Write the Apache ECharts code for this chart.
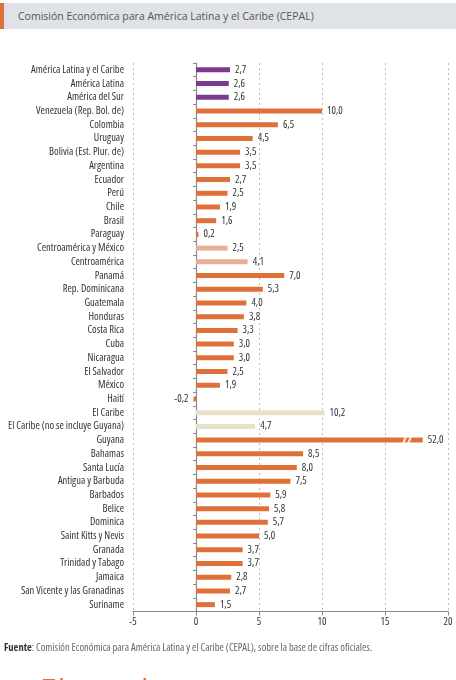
<!DOCTYPE html>
<html>
<head>
<meta charset="utf-8">
<script src="https://cdn.jsdelivr.net/npm/echarts@6/dist/echarts.min.js"></script>
<style>
    html, body { margin: 0; padding: 0; background: #fff; }
    #wrap { position: relative; width: 456px; height: 680px; overflow: hidden; }
    #head { position: absolute; left: 0; top: 3px; width: 456px; height: 26px; background: #dfe2e8; border-left: 4px solid #e0703a; box-sizing: border-box; }
    #head span { position: absolute; left: 14px; top: 6px; font-family: 'Open Sans', sans-serif; font-size: 10.5px; color: #555; }
    #main { position: absolute; left: 0; top: 0; width: 456px; height: 680px; }
    #src { position: absolute; left: 4px; top: 640px; font-family: 'Open Sans', sans-serif; font-stretch: condensed; font-size: 10.5px; color: #666; }
    #src b { color: #333; }
    #next { position: absolute; left: 40px; top: 674px; line-height: 30px; font-family: 'Open Sans', sans-serif; font-size: 30px; color: #e0703a; white-space: nowrap; letter-spacing: 1px; }
</style>
</head>
<body>
<div id="wrap">
    <div id="main"></div>
    <div id="head"><span>Comisión Económica para América Latina y el Caribe (CEPAL)</span></div>
    <div id="src"><b>Fuente</b>: Comisión Económica para América Latina y el Caribe (CEPAL), sobre la base de cifras oficiales.</div>
    <div id="next">El empleo mantuvo su recuperación</div>
</div>
<script>
var categories = ['América Latina y el Caribe', 'América Latina', 'América del Sur',
    'Venezuela (Rep. Bol. de)', 'Colombia', 'Uruguay', 'Bolivia (Est. Plur. de)', 'Argentina',
    'Ecuador', 'Perú', 'Chile', 'Brasil', 'Paraguay',
    'Centroamérica y México', 'Centroamérica', 'Panamá', 'Rep. Dominicana', 'Guatemala',
    'Honduras', 'Costa Rica', 'Cuba', 'Nicaragua', 'El Salvador', 'México', 'Haití',
    'El Caribe', 'El Caribe (no se incluye Guyana)', 'Guyana', 'Bahamas', 'Santa Lucía',
    'Antigua y Barbuda', 'Barbados', 'Belice', 'Dominica', 'Saint Kitts y Nevis', 'Granada',
    'Trinidad y Tabago', 'Jamaica', 'San Vicente y las Granadinas', 'Suriname'];
var values = [2.7, 2.6, 2.6,
    10.0, 6.5, 4.5, 3.5, 3.5,
    2.7, 2.5, 1.9, 1.6, 0.2,
    2.5, 4.1, 7.0, 5.3, 4.0,
    3.8, 3.3, 3.0, 3.0, 2.5, 1.9, -0.2,
    10.2, 4.7, 52.0, 8.5, 8.0,
    7.5, 5.9, 5.8, 5.7, 5.0, 3.7,
    3.7, 2.8, 2.7, 1.5];
var regionTotals = ['América Latina y el Caribe', 'América Latina', 'América del Sur'];
var centralTotals = ['Centroamérica y México', 'Centroamérica'];
var caribbeanTotals = ['El Caribe', 'El Caribe (no se incluye Guyana)'];
var xTicks = [-5, 0, 5, 10, 15, 20];

// no narrow font installed, so ask for the condensed width of Open Sans
var font = "'Open Sans', sans-serif";
var stretch = 'condensed';
var clipAt = 18; // bars past the axis get cut with a break mark

function barColor(name) {
    if (regionTotals.indexOf(name) >= 0) return '#7e3a8c';
    if (centralTotals.indexOf(name) >= 0) return '#e8ae97';
    if (caribbeanTotals.indexOf(name) >= 0) return '#e4e0c9';
    return '#e0703a';
}

var barData = values.map(function(v, i) {
    return {
        value: Math.min(v, clipAt),
        real: v,
        itemStyle: { color: barColor(categories[i]) },
        label: { position: v < 0 ? 'left' : 'right' }
    };
});

// break marks for clipped bars
var breaks = [];
values.forEach(function(v, i) {
    if (v > clipAt) {
        breaks.push([clipAt - 1.45, categories[i]]);
        breaks.push([clipAt - 1.05, categories[i]]);
    }
});

var myChart = echarts.init(document.getElementById('main'));
var option = {
    animation: false,
    grid: { left: 133, right: 8, top: 63, bottom: 68.5, outerBoundsMode: 'none' },
    xAxis: {
        type: 'value',
        min: xTicks[0],
        max: xTicks[xTicks.length - 1],
        interval: 5,
        axisLine: { show: true, lineStyle: { color: '#8a8a8a', width: 1.2 } },
        axisTick: { show: true, length: 4, lineStyle: { color: '#8a8a8a' } },
        axisLabel: { color: '#333', fontFamily: font, fontWeight: stretch, fontSize: 10.5, margin: 5 },
        splitLine: { show: true, lineStyle: { color: '#bdbdbd', type: [2, 3] } }
    },
    yAxis: [{
        type: 'category',
        inverse: true,
        data: categories,
        axisLine: { show: false, onZero: false },
        axisTick: { show: false },
        axisLabel: { interval: 0, color: '#333', fontFamily: font, fontWeight: stretch, fontSize: 10.5, margin: 9 }
    }, {
        type: 'category',
        inverse: true,
        data: categories,
        position: 'left',
        axisLine: { show: true, onZero: true, lineStyle: { color: '#8a8a8a', width: 1.2 } },
        axisTick: { show: true, interval: 0, length: 3, lineStyle: { color: '#8a8a8a' } },
        axisLabel: { show: false },
        splitLine: { show: false }
    }],
    series: [{
        type: 'bar',
        data: barData,
        barWidth: 5,
        yAxisIndex: 0,
        label: {
            show: true,
            distance: 5,
            color: '#333',
            fontFamily: font,
            fontWeight: stretch,
            fontSize: 10.5,
            formatter: function(p) {
                return p.data.real.toFixed(1).replace('.', ',');
            }
        }
    }, {
        type: 'scatter',
        data: breaks,
        symbol: 'rect',
        symbolSize: [2.2, 10],
        symbolRotate: -22,
        itemStyle: { color: '#fff' },
        z: 5,
        silent: true
    }]
};
myChart.setOption(option);
</script>
</body>
</html>
